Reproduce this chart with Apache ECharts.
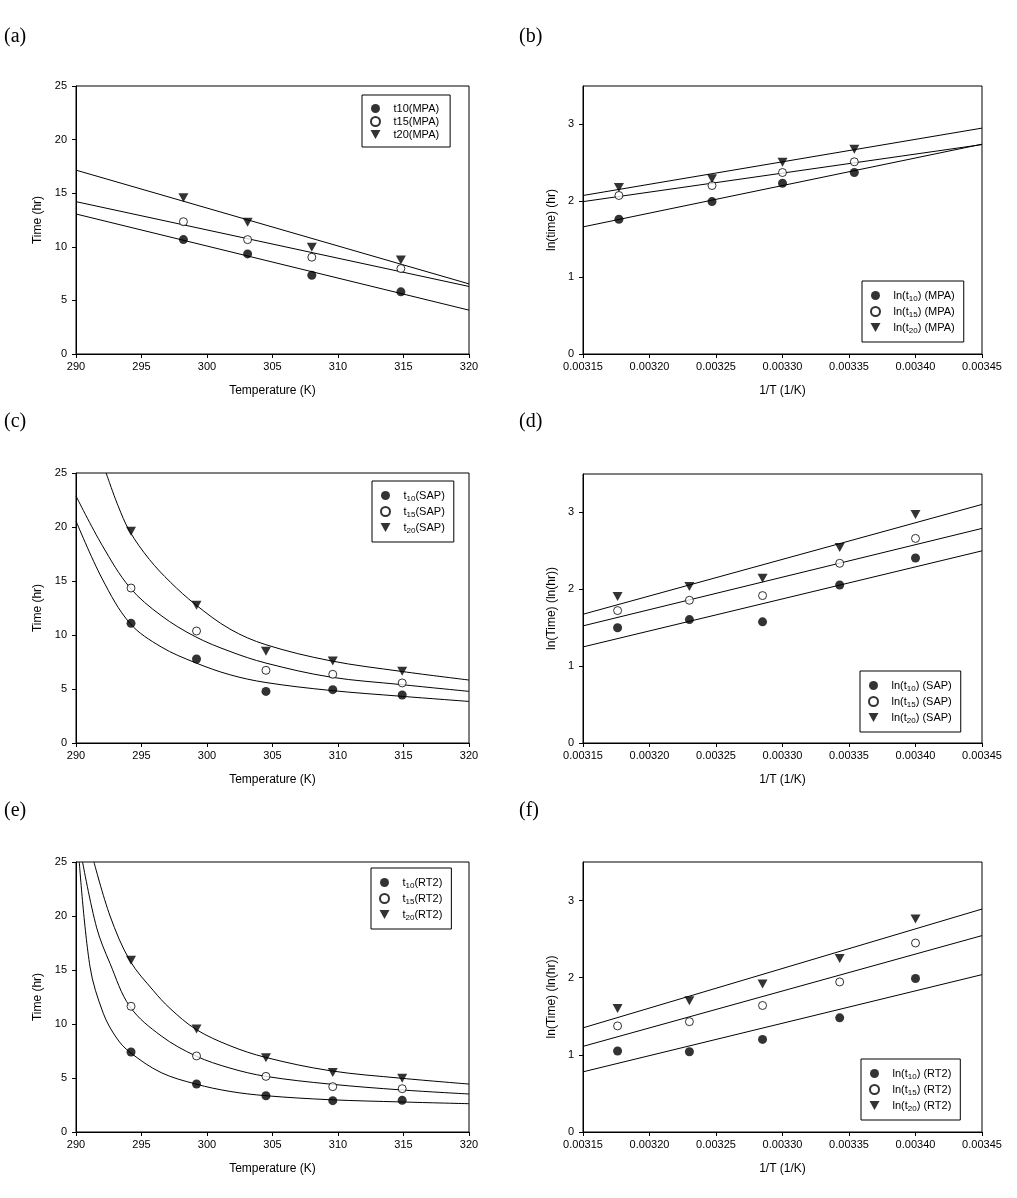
<!DOCTYPE html>
<html><head><meta charset="utf-8">
<script src="https://cdn.jsdelivr.net/npm/echarts@6/dist/echarts.min.js"></script>
<style>html,body{margin:0;padding:0;background:#fff}#c{width:1017px;height:1198px}</style>
</head><body><div id="c"></div>
<script>
// ---------------- data ----------------
// (a) MPA, time vs temperature
const T_MPA = [298.2, 303.1, 308.0, 314.8];
const t10_MPA = [10.67, 9.34, 7.35, 5.80];
const t15_MPA = [12.34, 10.67, 9.03, 7.97];
const t20_MPA = [14.58, 12.28, 9.96, 8.78];
const fit10_MPA = [[290, 13.06], [320, 4.09]];
const fit15_MPA = [[290, 14.21], [320, 6.30]];
const fit20_MPA = [[290, 17.15], [320, 6.54]];
// (b) MPA, ln(time) vs 1/T
const invT_MPA = [0.003177, 0.003247, 0.003300, 0.003354];
const ln10_MPA = [1.76, 1.99, 2.23, 2.37];
const ln15_MPA = [2.07, 2.20, 2.37, 2.51];
const ln20_MPA = [2.175, 2.29, 2.505, 2.675];
const lnfit10_MPA = [[0.00315, 1.66], [0.00345, 2.74]];
const lnfit15_MPA = [[0.00315, 1.99], [0.00345, 2.735]];
const lnfit20_MPA = [[0.00315, 2.07], [0.00345, 2.95]];
// (c) SAP
const T_SAP = [294.2, 299.2, 304.5, 309.6, 314.9];
const t10_SAP = [11.08, 7.78, 4.78, 4.94, 4.44];
const t15_SAP = [14.35, 10.37, 6.73, 6.36, 5.56];
const t20_SAP = [19.6, 12.75, 8.49, 7.59, 6.64];
const curve10_SAP = [[290, 20.56], [292, 15.2], [294.12, 11.08], [296.5, 8.9], [299.1, 7.44], [301.75, 6.32], [304.5, 5.6], [309.4, 4.87], [314.9, 4.32], [320, 3.85]];
const curve15_SAP = [[290, 22.87], [292, 18.3], [294.12, 14.38], [296.5, 11.8], [299.1, 9.85], [301.75, 8.48], [304.5, 7.4], [309.4, 6.11], [314.9, 5.4], [320, 4.78]];
const curve20_SAP = [[292.3, 25], [293.2, 22.0], [294.1, 19.6], [295.6, 17.0], [297.2, 14.9], [299.1, 12.84], [301.75, 10.55], [304.5, 9.1], [309.4, 7.62], [314.9, 6.62], [320, 5.83]];
// (d) SAP ln
const invT_SAP = [0.003176, 0.003230, 0.003285, 0.003343, 0.003400];
const ln10_SAP = [1.50, 1.606, 1.576, 2.056, 2.407];
const ln15_SAP = [1.723, 1.857, 1.918, 2.338, 2.662];
const ln20_SAP = [1.905, 2.035, 2.143, 2.545, 2.974];
const lnfit10_SAP = [[0.00315, 1.25], [0.00345, 2.50]];
const lnfit15_SAP = [[0.00315, 1.524], [0.00345, 2.792]];
const lnfit20_SAP = [[0.00315, 1.675], [0.00345, 3.104]];
// (e) RT2
const T_RT2 = [294.2, 299.2, 304.5, 309.6, 314.9];
const t10_RT2 = [7.41, 4.44, 3.36, 2.90, 2.93];
const t15_RT2 = [11.64, 7.04, 5.15, 4.20, 4.01];
const t20_RT2 = [15.9, 9.54, 6.88, 5.52, 4.97];
const curve10_RT2 = [[290.25, 25], [291.07, 15.3], [292.08, 11.0], [293.1, 8.7], [294.12, 7.38], [296.5, 5.5], [299.15, 4.44], [301.75, 3.76], [304.5, 3.36], [309.37, 2.99], [314.9, 2.78], [320, 2.62]];
const curve15_RT2 = [[290.5, 25], [291.58, 18.9], [292.6, 15.6], [294.12, 11.6], [296.5, 8.9], [299.15, 7.04], [301.75, 5.92], [304.5, 5.15], [309.37, 4.44], [314.9, 3.89], [320, 3.52]];
const curve20_RT2 = [[291.37, 25], [292.6, 20.0], [294.12, 15.86], [295.9, 13.1], [297.17, 11.45], [299.15, 9.51], [301.75, 7.99], [304.5, 6.9], [309.37, 5.68], [314.9, 4.97], [320, 4.44]];
// (f) RT2 ln
const invT_RT2 = [0.003176, 0.003230, 0.003285, 0.003343, 0.003400];
const ln10_RT2 = [1.05, 1.04, 1.20, 1.48, 1.99];
const ln15_RT2 = [1.375, 1.43, 1.64, 1.945, 2.45];
const ln20_RT2 = [1.60, 1.70, 1.92, 2.25, 2.76];
const lnfit10_RT2 = [[0.00315, 0.78], [0.00345, 2.04]];
const lnfit15_RT2 = [[0.00315, 1.11], [0.00345, 2.546]];
const lnfit20_RT2 = [[0.00315, 1.35], [0.00345, 2.89]];
// tick labels
const invTicks = [0.00315, 0.00320, 0.00325, 0.00330, 0.00335, 0.00340, 0.00345];
const lnTicks = [0, 1, 2, 3];
const panelLabels = ['(a)', '(b)', '(c)', '(d)', '(e)', '(f)'];

// ---------------- build ----------------
const FONT = '"Liberation Sans", Arial, sans-serif';
const SERIF = '"Liberation Serif", "Times New Roman", serif';
const grids = [
  {left: 76, top: 86, width: 393, height: 268},
  {left: 583, top: 86, width: 399, height: 268},
  {left: 76, top: 473, width: 393, height: 270},
  {left: 583, top: 474, width: 399, height: 269},
  {left: 76, top: 862, width: 393, height: 270},
  {left: 583, top: 862, width: 399, height: 270}
].map(g => Object.assign({show: true, borderColor: '#000', borderWidth: 1, backgroundColor: 'transparent'}, g));

const common = {
  axisLine: {show: true, onZero: false, lineStyle: {color: '#000', width: 1}},
  axisTick: {show: true, inside: false, length: 4, lineStyle: {color: '#000', width: 1}},
  splitLine: {show: false},
  nameLocation: 'middle',
  nameTextStyle: {color: '#000', fontSize: 12, fontFamily: FONT}
};
function xTemp(i) {
  return Object.assign({}, common, {type: 'value', gridIndex: i, min: 290, max: 320, interval: 5,
    name: 'Temperature (K)', nameGap: 31,
    axisLabel: {color: '#000', fontSize: 11, fontFamily: FONT, margin: 7}});
}
function xInv(i) {
  return Object.assign({}, common, {type: 'value', gridIndex: i, min: 0.00315, max: 0.00345,
    name: '1/T (1/K)', nameGap: 31,
    axisTick: Object.assign({}, common.axisTick, {customValues: invTicks}),
    axisLabel: {color: '#000', fontSize: 11, fontFamily: FONT, margin: 7, customValues: invTicks,
      formatter: v => v.toFixed(5)}});
}
function yTime(i) {
  return Object.assign({}, common, {type: 'value', gridIndex: i, min: 0, max: 25, interval: 5,
    name: 'Time (hr)', nameGap: 32,
    axisLabel: {color: '#000', fontSize: 11, fontFamily: FONT, margin: 9}});
}
function yLn(i, name) {
  return Object.assign({}, common, {type: 'value', gridIndex: i, min: 0, max: 3.5,
    name: name, nameGap: 25,
    axisTick: Object.assign({}, common.axisTick, {customValues: lnTicks}),
    axisLabel: {color: '#000', fontSize: 11, fontFamily: FONT, margin: 9, customValues: lnTicks}});
}

const SYM = {
  filled: {symbol: 'circle', symbolSize: 9, itemStyle: {color: '#000'}},
  open: {symbol: 'circle', symbolSize: 8, itemStyle: {color: '#fff', borderColor: '#000', borderWidth: 1}},
  tri: {symbol: 'path://M0,0 L10,0 L5,9 Z', symbolSize: [10, 9], itemStyle: {color: '#000'}}
};
const pts = (xs, ys) => xs.map((x, k) => [x, ys[k]]);
function scatter(name, i, data, kind) {
  return Object.assign({type: 'scatter', name, xAxisIndex: i, yAxisIndex: i, data, z: 5, silent: true,
    emphasis: {disabled: true}}, SYM[kind]);
}
function fitLine(name, i, data, smooth) {
  const s = {type: 'line', name, xAxisIndex: i, yAxisIndex: i, data, symbol: 'none', showSymbol: false,
    lineStyle: {color: '#000', width: 1}, itemStyle: {color: '#000'}, z: 3, silent: true, clip: true,
    emphasis: {disabled: true}};
  if (smooth) { s.smooth = 0.35; }
  return s;
}

const series = [
  scatter('t10(MPA)', 0, pts(T_MPA, t10_MPA), 'filled'),
  scatter('t15(MPA)', 0, pts(T_MPA, t15_MPA), 'open'),
  scatter('t20(MPA)', 0, pts(T_MPA, t20_MPA), 'tri'),
  fitLine('fa10', 0, fit10_MPA), fitLine('fa15', 0, fit15_MPA), fitLine('fa20', 0, fit20_MPA),

  scatter('ln(t10) (MPA)', 1, pts(invT_MPA, ln10_MPA), 'filled'),
  scatter('ln(t15) (MPA)', 1, pts(invT_MPA, ln15_MPA), 'open'),
  scatter('ln(t20) (MPA)', 1, pts(invT_MPA, ln20_MPA), 'tri'),
  fitLine('fb10', 1, lnfit10_MPA), fitLine('fb15', 1, lnfit15_MPA), fitLine('fb20', 1, lnfit20_MPA),

  scatter('t10(SAP)', 2, pts(T_SAP, t10_SAP), 'filled'),
  scatter('t15(SAP)', 2, pts(T_SAP, t15_SAP), 'open'),
  scatter('t20(SAP)', 2, pts(T_SAP, t20_SAP), 'tri'),
  fitLine('fc10', 2, curve10_SAP, true), fitLine('fc15', 2, curve15_SAP, true), fitLine('fc20', 2, curve20_SAP, true),

  scatter('ln(t10) (SAP)', 3, pts(invT_SAP, ln10_SAP), 'filled'),
  scatter('ln(t15) (SAP)', 3, pts(invT_SAP, ln15_SAP), 'open'),
  scatter('ln(t20) (SAP)', 3, pts(invT_SAP, ln20_SAP), 'tri'),
  fitLine('fd10', 3, lnfit10_SAP), fitLine('fd15', 3, lnfit15_SAP), fitLine('fd20', 3, lnfit20_SAP),

  scatter('t10(RT2)', 4, pts(T_RT2, t10_RT2), 'filled'),
  scatter('t15(RT2)', 4, pts(T_RT2, t15_RT2), 'open'),
  scatter('t20(RT2)', 4, pts(T_RT2, t20_RT2), 'tri'),
  fitLine('fe10', 4, curve10_RT2, true), fitLine('fe15', 4, curve15_RT2, true), fitLine('fe20', 4, curve20_RT2, true),

  scatter('ln(t10) (RT2)', 5, pts(invT_RT2, ln10_RT2), 'filled'),
  scatter('ln(t15) (RT2)', 5, pts(invT_RT2, ln15_RT2), 'open'),
  scatter('ln(t20) (RT2)', 5, pts(invT_RT2, ln20_RT2), 'tri'),
  fitLine('ff10', 5, lnfit10_RT2), fitLine('ff15', 5, lnfit15_RT2), fitLine('ff20', 5, lnfit20_RT2)
];

const subFmt = name => name.replace(/^(.*t)(\d\d)(.*)$/, '{n|$1}{s|$2}{n|$3}');
const richSub = {
  n: {fontSize: 11, fontFamily: FONT, color: '#000', lineHeight: 15, verticalAlign: 'middle'},
  s: {fontSize: 8, fontFamily: FONT, color: '#000', lineHeight: 15, verticalAlign: 'bottom'}
};
function legend(names, left, top, opts) {
  return Object.assign({
    data: names, orient: 'vertical', left, top,
    itemWidth: 26, itemHeight: 9, itemGap: 1,
    borderColor: '#000', borderWidth: 1, padding: [7, 9, 7, 8],
    selectedMode: false, inactiveColor: '#000',
    textStyle: {fontSize: 11, fontFamily: FONT, color: '#000', lineHeight: 15, rich: richSub},
    formatter: subFmt
  }, opts || {});
}
const legends = [
  legend(['t10(MPA)', 't15(MPA)', 't20(MPA)'], 362, 95,
    {itemGap: 0, padding: [7, 11, 6, 8], formatter: n => n,
     textStyle: {fontSize: 11, fontFamily: FONT, color: '#000', lineHeight: 13}}),
  legend(['ln(t10) (MPA)', 'ln(t15) (MPA)', 'ln(t20) (MPA)'], 862, 281),
  legend(['t10(SAP)', 't15(SAP)', 't20(SAP)'], 372, 481),
  legend(['ln(t10) (SAP)', 'ln(t15) (SAP)', 'ln(t20) (SAP)'], 860, 671),
  legend(['t10(RT2)', 't15(RT2)', 't20(RT2)'], 371, 868),
  legend(['ln(t10) (RT2)', 'ln(t15) (RT2)', 'ln(t20) (RT2)'], 861, 1059)
];

const labelPos = [[4, 27], [519, 27], [4, 412], [519, 412], [4, 801], [519, 801]];
const titles = panelLabels.map((t, k) => ({
  text: t, left: labelPos[k][0], top: labelPos[k][1], padding: 0,
  textStyle: {fontFamily: SERIF, fontSize: 20, fontWeight: 'normal', color: '#000'}
}));

const option = {
  animation: false,
  backgroundColor: '#fff',
  title: titles,
  grid: grids,
  xAxis: [xTemp(0), xInv(1), xTemp(2), xInv(3), xTemp(4), xInv(5)],
  yAxis: [yTime(0), yLn(1, 'ln(time) (hr)'), yTime(2), yLn(3, 'ln(Time) (ln(hr))'), yTime(4), yLn(5, 'ln(Time) (ln(hr))')],
  legend: legends,
  series
};
const chart = echarts.init(document.getElementById('c'), null, {renderer: 'canvas'});
chart.setOption(option);
</script></body></html>
